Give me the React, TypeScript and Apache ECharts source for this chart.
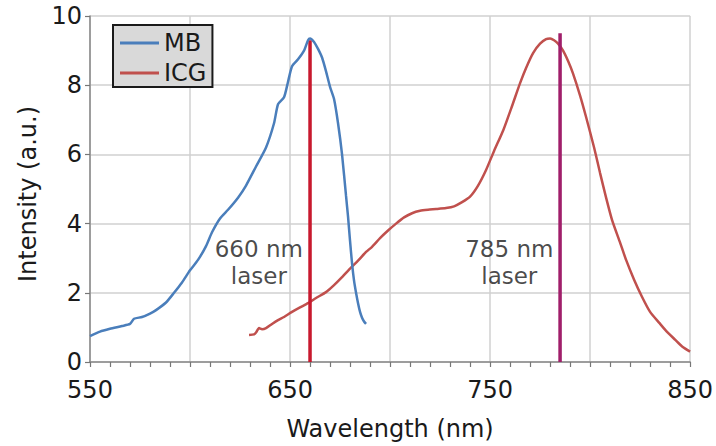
import React, { useEffect, useRef } from "react";
import * as echarts from "echarts";

const mbWavelength = [550, 555, 560, 566, 570, 572, 576, 580, 583, 588, 592, 596, 600, 604, 608, 611, 615, 619, 624, 628, 633, 638, 642, 644, 647, 649, 651, 654, 657, 659, 660, 662, 664, 666, 668, 670, 672, 674, 676, 678, 679, 680, 681, 682, 683, 684, 685, 686, 687, 688];
const mbIntensity = [0.75, 0.88, 0.96, 1.04, 1.1, 1.25, 1.3, 1.4, 1.5, 1.72, 2.0, 2.3, 2.65, 2.95, 3.35, 3.75, 4.15, 4.4, 4.75, 5.1, 5.65, 6.2, 6.9, 7.45, 7.65, 8.1, 8.55, 8.75, 9.0, 9.3, 9.35, 9.25, 9.05, 8.8, 8.4, 7.95, 7.6, 6.9, 6.0, 4.8, 4.2, 3.5, 2.85, 2.35, 2.0, 1.7, 1.45, 1.28, 1.17, 1.1];

const icgWavelength = [629.5, 632, 633, 634.5, 636, 638, 641, 644, 647, 651, 655, 659, 663, 668, 672, 676, 680, 684, 688, 691, 695, 699, 703, 707, 711, 715, 719, 723, 728, 732, 736, 740, 744, 748, 752, 756.6, 761, 765, 768, 771.5, 775, 778, 780, 782, 784, 786.5, 789, 791.4, 795, 798, 802, 805, 808, 811, 815, 818, 822, 826, 830, 834.6, 838, 842.6, 846, 850];
const icgIntensity = [0.78, 0.8, 0.85, 0.98, 0.95, 0.98, 1.1, 1.21, 1.3, 1.45, 1.58, 1.7, 1.85, 2.02, 2.22, 2.45, 2.7, 2.93, 3.18, 3.33, 3.58, 3.8, 4.0, 4.18, 4.3, 4.37, 4.4, 4.42, 4.45, 4.5, 4.62, 4.78, 5.1, 5.55, 6.1, 6.7, 7.4, 8.06, 8.5, 8.93, 9.2, 9.33, 9.35, 9.3, 9.2, 9.0, 8.7, 8.35, 7.7, 7.08, 6.2, 5.46, 4.75, 4.1, 3.45, 2.95, 2.38, 1.88, 1.45, 1.13, 0.9, 0.64, 0.45, 0.3];

const laserWavelengths = [660, 785];
const laserTops = [9.3, 9.5];
const laserLabels = ["660 nm\nlaser", "785 nm\nlaser"];
const laserLabelPos = [[634.4, 2.89], [759.6, 2.89]];

const xTickLabels = [550, 650, 750, 850];

const FONT = "'DejaVu Sans', 'Open Sans', sans-serif";
const TEXT = "#1a1a1a";

export default function App() {
  const ref = useRef<HTMLDivElement>(null);
  useEffect(() => {
    document.body.style.margin = "0";
    const chart = echarts.init(ref.current!, null, { renderer: "svg" });
    const zip = (xs: number[], ys: number[]) => xs.map((x, i) => [x, ys[i]]);
    chart.setOption({
      animation: false,
      textStyle: { fontFamily: FONT },
      grid: { left: 90, right: 22, top: 16, bottom: 84 },
      legend: {
        data: ["MB", "ICG"],
        orient: "vertical",
        left: 113,
        top: 25,
        backgroundColor: "#d9d9d9",
        borderColor: "#1a1a1a",
        borderWidth: 2,
        padding: [6, 6, 2, 7],
        itemGap: 6,
        itemWidth: 39,
        itemHeight: 3,
        icon: "rect",
        textStyle: { fontSize: 24, color: TEXT, fontFamily: FONT },
      },
      xAxis: {
        type: "value",
        min: 550,
        max: 850,
        interval: 50,
        name: "Wavelength (nm)",
        nameLocation: "middle",
        nameGap: 55,
        nameTextStyle: { fontSize: 24, color: TEXT, fontFamily: FONT },
        axisLine: { show: true, lineStyle: { color: "#888", width: 1.5 } },
        axisTick: { show: true, length: 5, lineStyle: { color: "#777", width: 1.2 } },
        minorTick: { show: true, splitNumber: 5, length: 5, lineStyle: { color: "#777", width: 1.2 } },
        splitLine: { show: true, lineStyle: { color: "#d0d0d0", width: 1.5 } },
        axisLabel: {
          fontSize: 24,
          color: TEXT,
          margin: 16,
          fontFamily: FONT,
          formatter: (v: number) => (xTickLabels.includes(v) ? String(v) : ""),
        },
      },
      yAxis: {
        type: "value",
        min: 0,
        max: 10,
        interval: 2,
        name: "Intensity (a.u.)",
        nameLocation: "middle",
        nameGap: 50,
        nameTextStyle: { fontSize: 24, color: TEXT, fontFamily: FONT, padding: [0, 10, 0, 0] },
        axisLine: { show: true, lineStyle: { color: "#888", width: 1.5 } },
        axisTick: { show: true, length: 5, lineStyle: { color: "#777", width: 1.2 } },
        splitLine: { show: true, lineStyle: { color: "#d0d0d0", width: 1.5 } },
        axisLabel: { fontSize: 24, color: TEXT, margin: 8, fontFamily: FONT },
      },
      series: [
        {
          name: "MB",
          type: "line",
          data: zip(mbWavelength, mbIntensity),
          showSymbol: false,
          symbol: "none",
          smooth: 0.2,
          color: "#4a7ebb",
          lineStyle: { width: 2.5, color: "#4a7ebb" },
          z: 3,
        },
        {
          name: "ICG",
          type: "line",
          data: zip(icgWavelength, icgIntensity),
          showSymbol: false,
          symbol: "none",
          smooth: 0.2,
          color: "#c0504d",
          lineStyle: { width: 2.5, color: "#c0504d" },
          z: 2,
        },
        {
          name: "laser660",
          type: "line",
          data: [[laserWavelengths[0], 0], [laserWavelengths[0], laserTops[0]]],
          symbol: "none",
          lineStyle: { width: 3.5, color: "#c8192e" },
          z: 2,
        },
        {
          name: "laser785",
          type: "line",
          data: [[laserWavelengths[1], 0], [laserWavelengths[1], laserTops[1]]],
          symbol: "none",
          lineStyle: { width: 3.5, color: "#a01e6a" },
          z: 4,
        },
        {
          name: "labels",
          type: "scatter",
          symbolSize: 0,
          data: laserLabelPos.map((p, i) => ({ value: p, label: { formatter: laserLabels[i] } })),
          label: {
            show: true,
            position: "inside",
            fontSize: 23,
            lineHeight: 27,
            color: TEXT,
            fontFamily: FONT,
            align: "center",
          },
          z: 5,
        },
      ],
    });
    return () => chart.dispose();
  }, []);
  return <div ref={ref} style={{ width: 716, height: 446 }} />;
}
